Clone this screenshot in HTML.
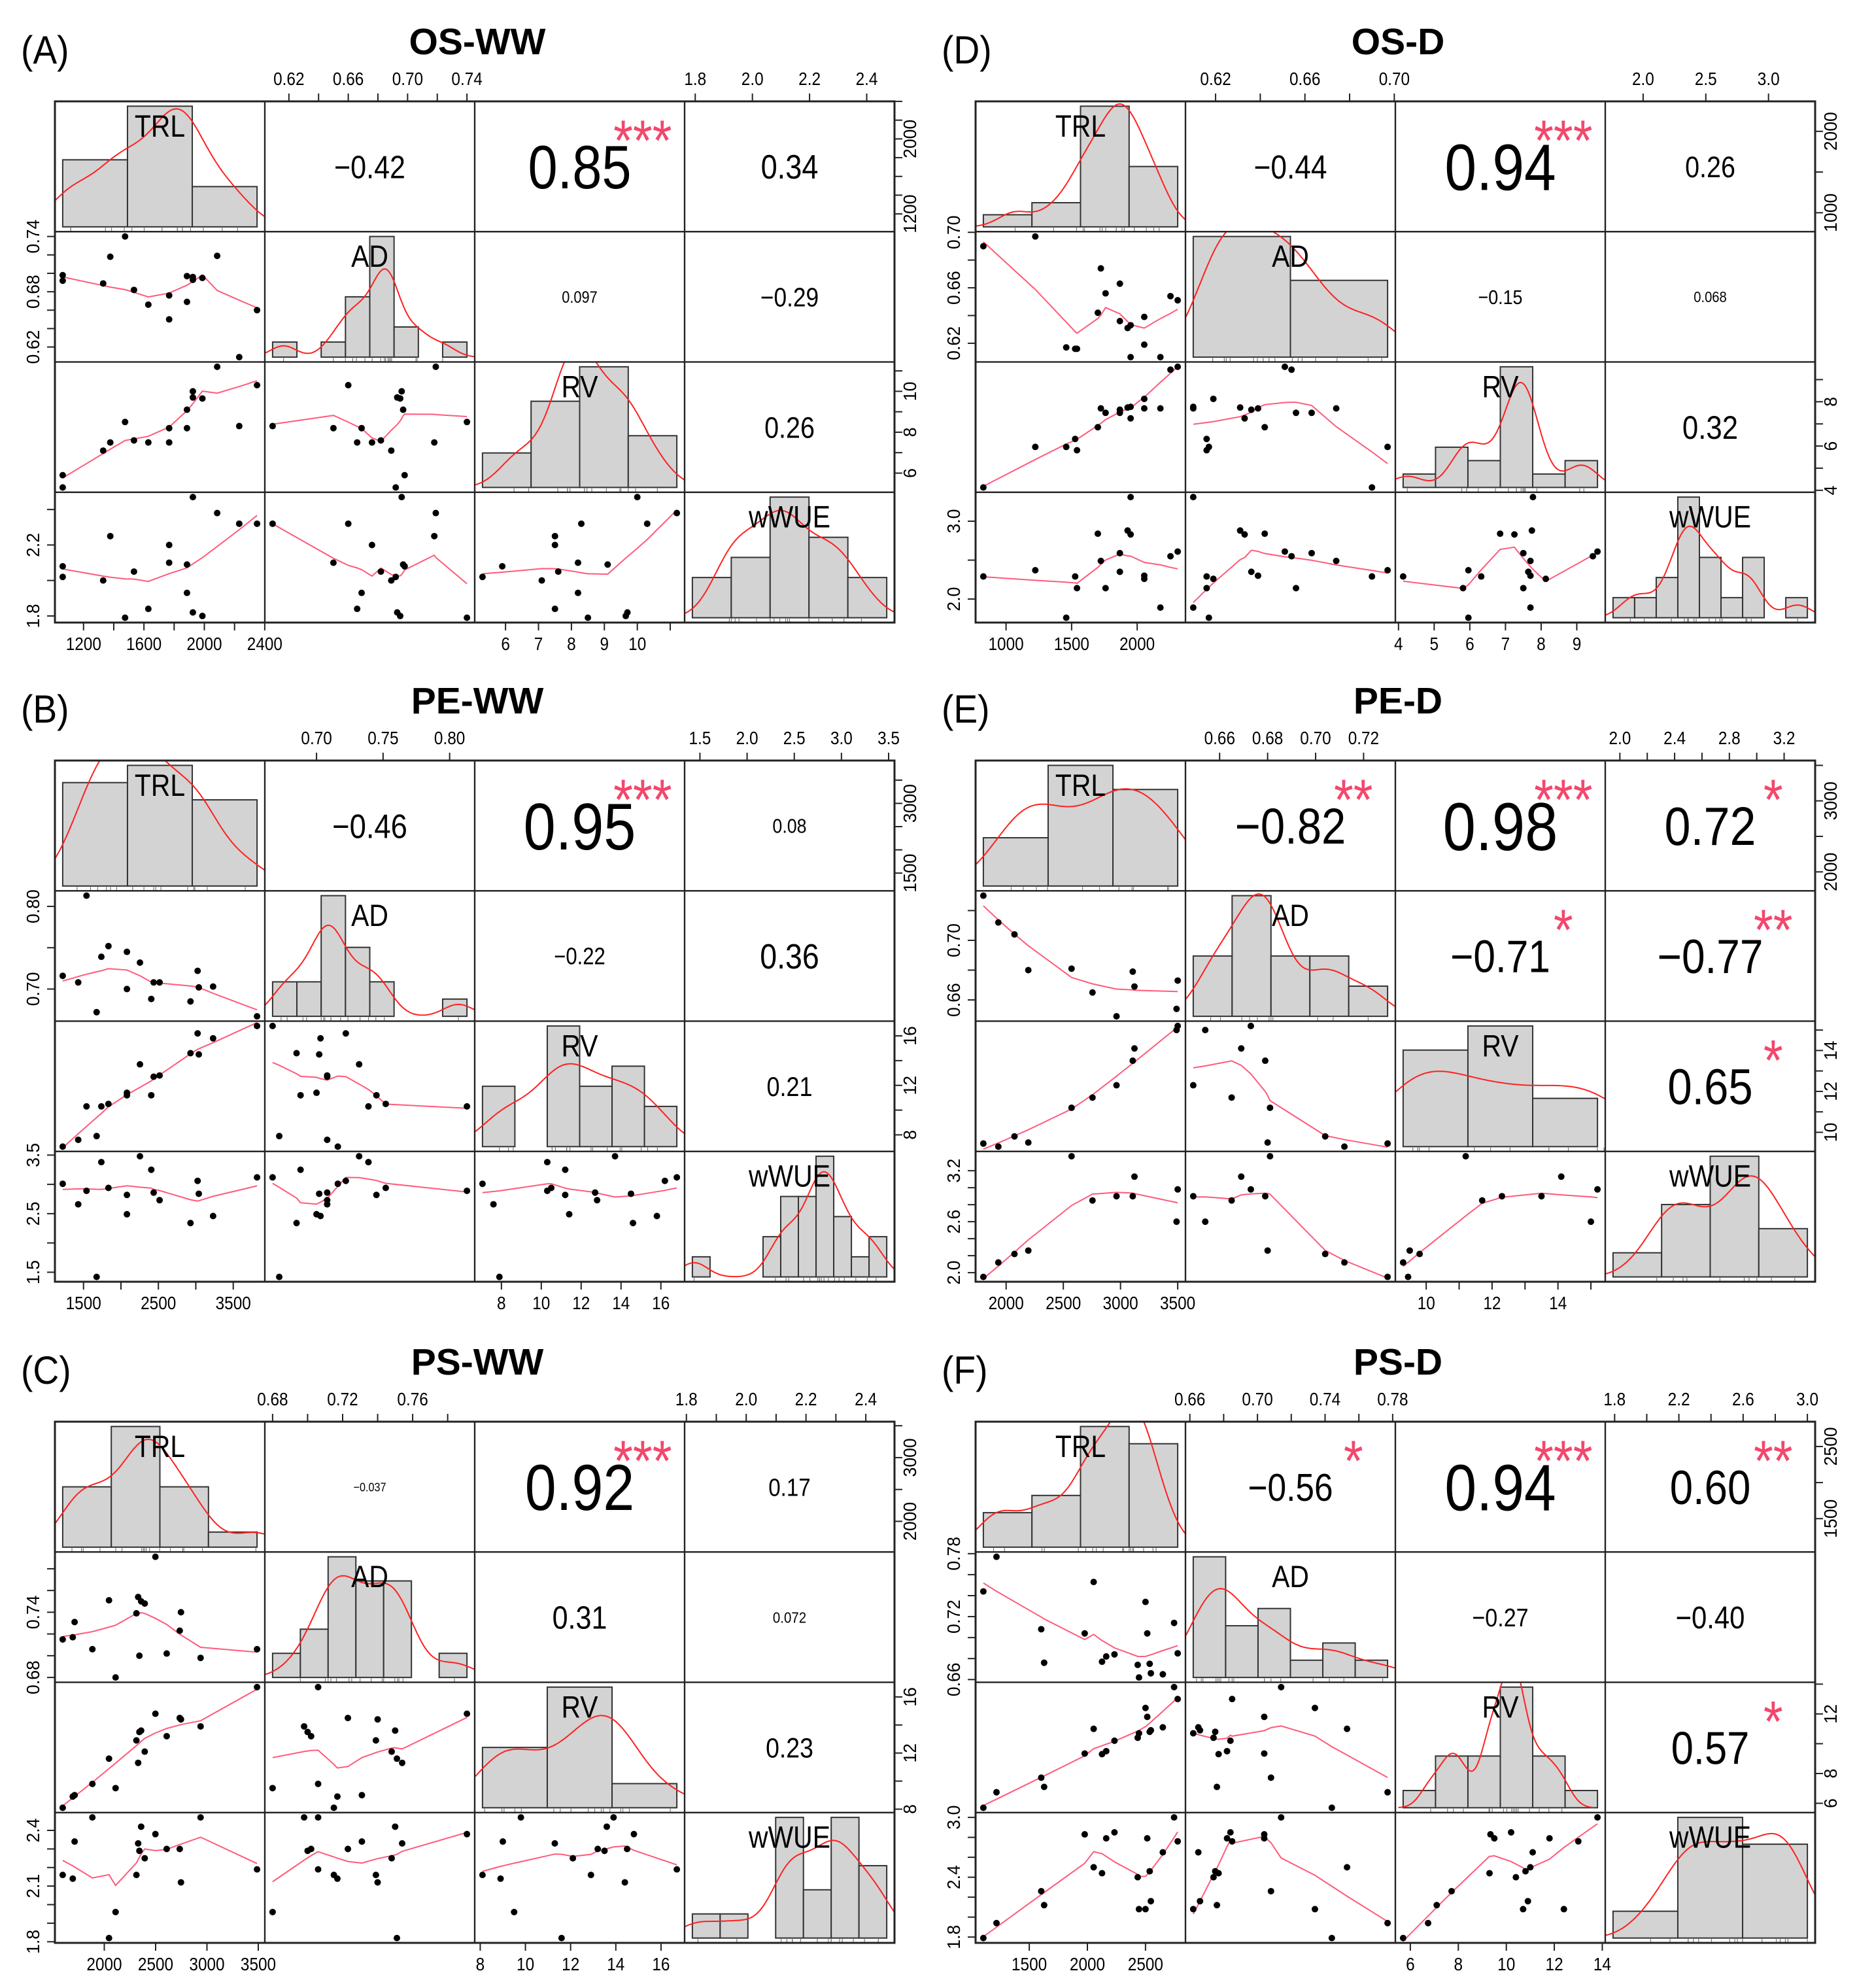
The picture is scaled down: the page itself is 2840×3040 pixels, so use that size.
<!DOCTYPE html>
<html><head><meta charset="utf-8"><title>Correlation matrices</title>
<style>body{margin:0;background:#fff}svg{display:block}text{font-family:"Liberation Sans",Arial,sans-serif}</style>
</head><body>
<svg id="chart" width="2840" height="3040" viewBox="0 0 2840 3040" xmlns="http://www.w3.org/2000/svg">
<rect width="2840" height="3040" fill="#fff"/>
<defs id="clips"></defs>
</svg>
<script>
// ---------- Panel A: OS-WW ----------
const A_trl=[1062,1062,1330,1377,1475,1534,1629,1767,1767,1885,1885,1924,1924,1987,2085,2231,2349];
const A_ad=[.698,.692,.689,.718,.740,.682,.666,.676,.650,.697,.669,.696,.693,.695,.719,.609,.660];
const A_rv=[5.9,5.3,7.1,7.5,8.5,7.6,7.5,7.5,8.2,9.1,8.2,10.0,9.7,9.65,11.2,8.3,10.3];
const A_ww=[2.08,2.02,2.00,2.25,1.79,2.05,1.84,2.20,2.10,2.09,1.93,2.47,1.82,1.80,2.38,2.32,2.32];
const A_breaks=[[1000,1500,2000,2500],[.60,.62,.64,.66,.68,.70,.72,.74,.76],[4,6,8,10,12],[1.6,1.8,2.0,2.2,2.4,2.6]];
const A_counts=[[5,9,3],[1,0,1,4,8,2,0,1],[2,5,7,3],[2,3,6,4,2]];
const A_corr=["−0.42","0.85","0.34","0.097","−0.29","0.26"];
const A_sig=["","***","","","",""];
const A_tk=[[1200,1400,1600,1800,2000,2200,2400],[.62,.64,.66,.68,.70,.72,.74],[6,7,8,9,10,11],[1.8,2.0,2.2,2.4]];
const A_lh=[[1200,1600,2000,2400],[.62,.66,.70,.74],[6,7,8,9,10],[1.8,2.0,2.2,2.4]];
const A_lv=[[1200,2000],[.62,.68,.74],[6,8,10],[1.8,2.2]];
// ---------- Panel B: PE-WW ----------
const B_trl=[1222,1429,1540,1675,1738,1833,2080,2080,2254,2405,2437,2516,2929,3024,3040,3231,3818];
const B_ad=[.716,.708,.813,.672,.739,.752,.745,.700,.732,.688,.708,.708,.685,.722,.702,.703,.667];
const B_rv=[7.05,7.6,10.3,7.9,10.3,10.5,11.2,11.4,13.7,11.2,12.7,12.8,14.6,16.2,14.5,15.8,16.8];
const B_ww=[3.01,2.66,2.89,1.42,3.38,2.94,2.82,2.49,3.48,3.25,2.86,2.73,2.34,3.06,2.84,2.46,3.12];
const B_breaks=[[1000,2000,3000,4000],[.66,.68,.70,.72,.74,.76,.78,.80,.82],[6,8,10,12,14,16,18],[1.4,1.6,1.8,2.0,2.2,2.4,2.6,2.8,3.0,3.2,3.4,3.6]];
const B_counts=[[6,7,5],[2,2,7,4,2,0,0,1],[3,0,6,3,4,2],[1,0,0,0,2,4,4,6,3,1,2]];
const B_corr=["−0.46","0.95","0.08","−0.22","0.36","0.21"];
const B_sig=["","***","","","",""];
const B_tk=[[1500,2000,2500,3000,3500],[.70,.75,.80],[8,10,12,14,16],[1.5,2.0,2.5,3.0,3.5]];
const B_lh=[[1500,2500,3500],[.70,.75,.80],[8,10,12,14,16],[1.5,2.0,2.5,3.0,3.5]];
const B_lv=[[1500,3000],[.70,.80],[8,12,16],[1.5,2.5,3.5]];
// ---------- Panel C: PS-WW ----------
const C_trl=[1595,1693,1711,1884,2046,2110,2313,2330,2342,2359,2394,2498,2608,2735,2747,2938,3488];
const C_ad=[.715,.717,.731,.706,.751,.680,.739,.754,.700,.750,.748,.791,.702,.723,.740,.698,.706];
const C_rv=[8.1,8.9,9.0,9.8,11.6,9.5,12.9,11.3,13.5,13.6,12.1,14.8,13.2,14.5,14.4,13.9,16.7];
const C_ww=[2.16,2.14,2.34,2.47,1.82,1.96,2.16,2.33,2.29,2.42,2.25,2.38,2.30,2.30,2.12,2.47,2.19];
const C_breaks=[[1500,2000,2500,3000,3500],[.66,.68,.70,.72,.74,.76,.78,.80],[8,11,14,17],[1.8,1.9,2.0,2.1,2.2,2.3,2.4,2.5]];
const C_counts=[[4,8,4,1],[1,2,5,4,4,0,1],[5,10,2],[1,1,0,5,2,5,3]];
const C_corr=["−0.037","0.92","0.17","0.31","0.072","0.23"];
const C_sig=["","***","","","",""];
const C_tk=[[2000,2500,3000,3500],[.68,.70,.72,.74,.76,.78],[8,10,12,14,16],[1.8,1.9,2.0,2.1,2.2,2.3,2.4]];
const C_lh=[[2000,2500,3000,3500],[.68,.72,.76],[8,10,12,14,16],[1.8,2.0,2.2,2.4]];
const C_lv=[[2000,3000],[.68,.74],[8,12,16],[1.8,2.1,2.4]];
// ---------- Panel D: OS-D ----------
const D_trl=[827,1223,1459,1527,1541,1700,1723,1759,1868,1868,1927,1950,1950,2054,2054,2177,2254,2309];
const D_ad=[.690,.697,.617,.616,.616,.642,.674,.656,.636,.663,.631,.633,.610,.639,.619,.610,.654,.651];
const D_rv=[4.13,5.96,5.96,6.32,5.81,6.85,7.7,7.5,7.64,7.5,7.74,7.25,7.77,7.7,8.13,7.7,9.45,9.58];
const D_ww=[2.29,2.37,1.76,2.29,2.14,2.84,2.49,2.14,2.35,2.59,2.88,2.83,3.31,2.30,2.26,1.89,2.55,2.61];
const D_breaks=[[500,1000,1500,2000,2500],[.60,.65,.70],[4,5,6,7,8,9,10],[1.6,1.8,2.0,2.2,2.4,2.6,2.8,3.0,3.2,3.4]];
const D_counts=[[1,2,10,5],[11,7],[1,3,2,9,1,2],[1,1,2,6,3,1,3,0,1]];
const D_corr=["−0.44","0.94","0.26","−0.15","0.068","0.32"];
const D_sig=["","***","","","",""];
const D_tk=[[1000,1500,2000],[.62,.64,.66,.68,.70],[4,5,6,7,8,9],[2.0,2.5,3.0]];
const D_lh=[[1000,1500,2000],[.62,.66,.70],[4,5,6,7,8,9],[2.0,2.5,3.0]];
const D_lv=[[1000,2000],[.62,.66,.70],[4,6,8],[2.0,3.0]];
// ---------- Panel E: PE-D ----------
const E_trl=[1801,1932,2073,2194,2572,2755,2965,3107,3122,3500,3490];
const E_ad=[.730,.712,.704,.680,.681,.665,.649,.679,.669,.673,.654];
const E_rv=[9.45,9.3,9.8,9.5,11.2,11.7,12.3,13.5,14.1,15.2,15.0];
const E_ww=[1.95,2.12,2.22,2.26,3.37,2.85,2.90,2.90,3.13,2.98,2.60];
const E_breaks=[[1500,2200,2900,3600],[.64,.66,.68,.70,.72,.74],[9,11,13,15],[1.5,2.0,2.5,3.0,3.5]];
const E_counts=[[2,5,4],[2,4,2,2,1],[4,5,2],[1,3,5,2]];
const E_corr=["−0.82","0.98","0.72","−0.71","−0.77","0.65"];
const E_sig=["**","***","*","*","**","*"];
const E_tk=[[2000,2500,3000,3500],[.66,.68,.70,.72],[10,11,12,13,14,15],[2.0,2.2,2.4,2.6,2.8,3.0,3.2]];
const E_lh=[[2000,2500,3000,3500],[.66,.68,.70,.72],[10,12,14],[2.0,2.4,2.8,3.2]];
const E_lv=[[2000,3000],[.66,.70],[10,12,14],[2.0,2.6,3.2]];
// ---------- Panel F: PS-D ----------
const F_trl=[1105,1218,1603,1628,1977,2054,2126,2162,2233,2433,2444,2500,2515,2536,2546,2649,2746,2777];
const F_ad=[.744,.777,.708,.676,.704,.753,.677,.682,.684,.674,.662,.734,.704,.675,.666,.665,.714,.685];
const F_rv=[5.7,6.74,7.72,7.1,9.34,11.0,9.3,9.5,10.2,10.4,10.7,12.4,11.8,10.8,10.9,11.1,13.8,13.0];
const F_ww=[1.79,1.94,2.26,2.12,2.83,2.50,2.44,2.79,2.85,2.40,2.08,2.08,2.79,2.46,2.16,2.65,3.0,2.76];
const F_breaks=[[1000,1500,2000,2500,3000],[.66,.68,.70,.72,.74,.76,.78],[4,6,8,10,12,14,16],[1.5,2.0,2.5,3.0]];
const F_counts=[[2,3,7,6],[7,3,4,1,2,1],[1,3,3,7,3,1],[2,9,7]];
const F_corr=["−0.56","0.94","0.60","−0.27","−0.40","0.57"];
const F_sig=["*","***","**","","","*"];
const F_tk=[[1500,2000,2500],[.66,.68,.70,.72,.74,.76,.78],[6,8,10,12,14],[1.8,2.0,2.2,2.4,2.6,2.8,3.0]];
const F_lh=[[1500,2000,2500],[.66,.70,.74,.78],[6,8,10,12,14],[1.8,2.2,2.6,3.0]];
const F_lv=[[1500,2500],[.66,.72,.78],[6,8,12],[1.8,2.4,3.0]];

const varNames=["TRL","AD","RV","wWUE"];
const decimals=[0,2,0,1];

const panels=[
 {id:"a",letter:"(A)",title:"OS-WW",x0:84,y0:155,vars:[A_trl,A_ad,A_rv,A_ww],br:A_breaks,ct:A_counts,corr:A_corr,sig:A_sig,tk:A_tk,lh:A_lh,lv:A_lv},
 {id:"b",letter:"(B)",title:"PE-WW",x0:84,y0:1163,vars:[B_trl,B_ad,B_rv,B_ww],br:B_breaks,ct:B_counts,corr:B_corr,sig:B_sig,tk:B_tk,lh:B_lh,lv:B_lv},
 {id:"c",letter:"(C)",title:"PS-WW",x0:84,y0:2174,vars:[C_trl,C_ad,C_rv,C_ww],br:C_breaks,ct:C_counts,corr:C_corr,sig:C_sig,tk:C_tk,lh:C_lh,lv:C_lv},
 {id:"d",letter:"(D)",title:"OS-D",x0:1492,y0:155,vars:[D_trl,D_ad,D_rv,D_ww],br:D_breaks,ct:D_counts,corr:D_corr,sig:D_sig,tk:D_tk,lh:D_lh,lv:D_lv},
 {id:"e",letter:"(E)",title:"PE-D",x0:1492,y0:1163,vars:[E_trl,E_ad,E_rv,E_ww],br:E_breaks,ct:E_counts,corr:E_corr,sig:E_sig,tk:E_tk,lh:E_lh,lv:E_lv},
 {id:"f",letter:"(F)",title:"PS-D",x0:1492,y0:2174,vars:[F_trl,F_ad,F_rv,F_ww],br:F_breaks,ct:F_counts,corr:F_corr,sig:F_sig,tk:F_tk,lh:F_lh,lv:F_lv}
];

const NS="http://www.w3.org/2000/svg";
const svg=document.getElementById('chart');
const defs=document.getElementById('clips');
const SX=0.87, W=1284, H=797, CW=W/4, CH=H/4;
function mk(p,tag,at){const e=document.createElementNS(NS,tag);for(const k in at)e.setAttribute(k,at[k]);p.appendChild(e);return e;}
function tx(p,s,x,y,fs,sx,rot,fill){
  const e=mk(p,'text',{transform:'translate('+x.toFixed(1)+','+y.toFixed(1)+')'+(rot?' rotate(-90)':'')+' scale('+sx+',1)','text-anchor':'middle','font-size':fs,fill:fill||'#000'});
  e.textContent=s;return e;}
function lowess(x,y){
  const n=x.length, idx=x.map((v,i)=>i).sort((a,b)=>x[a]-x[b]);
  const xs=idx.map(i=>x[i]), ys=idx.map(i=>y[i]);
  const ns=Math.max(2,Math.min(n,Math.floor(2/3*n+1e-7)));
  let rw=new Array(n).fill(1), fit=new Array(n).fill(0);
  for(let it=0;it<=3;it++){
    for(let i=0;i<n;i++){
      const d=xs.map(v=>Math.abs(v-xs[i])).slice().sort((a,b)=>a-b);
      let h=Math.max(d[ns-1],1e-9);
      let sw=0,sx=0,sy=0,sxx=0,sxy=0;
      for(let k=0;k<n;k++){const u=Math.abs(xs[k]-xs[i])/h;let w=u<1?Math.pow(1-u*u*u,3):0;w*=rw[k];
        sw+=w;sx+=w*xs[k];sy+=w*ys[k];sxx+=w*xs[k]*xs[k];sxy+=w*xs[k]*ys[k];}
      if(sw<=0){fit[i]=ys[i];continue;}
      const mx=sx/sw,my=sy/sw,vx=sxx/sw-mx*mx;
      fit[i]=vx>1e-12*(1+mx*mx)?my+(sxy/sw-mx*my)/vx*(xs[i]-mx):my;
    }
    if(it===3)break;
    const res=ys.map((v,i)=>v-fit[i]);const ar=res.map(Math.abs).sort((a,b)=>a-b);
    const med=ar[Math.floor((n-1)/2)]*0.5+ar[Math.ceil((n-1)/2)]*0.5;const c=6*med;
    if(c<1e-12)break;
    rw=res.map(r=>{const u=Math.abs(r)/c;return u<1?Math.pow(1-u*u,2):0;});
  }
  return xs.map((v,i)=>[v,fit[i]]);
}
function kde(v){
  const n=v.length,m=v.reduce((a,b)=>a+b,0)/n;
  const sd=Math.sqrt(v.reduce((a,b)=>a+(b-m)*(b-m),0)/(n-1));
  const s=v.slice().sort((a,b)=>a-b);const q=p=>{const h=(n-1)*p,l=Math.floor(h);return s[l]+(h-l)*((s[l+1]??s[l])-s[l]);};
  let lo=Math.min(sd,(q(.75)-q(.25))/1.34);if(!(lo>0))lo=sd;
  const bw=0.9*lo*Math.pow(n,-0.2);const a=s[0]-3*bw,b=s[n-1]+3*bw,pts=[];
  for(let k=0;k<=200;k++){const x=a+(b-a)*k/200;let d=0;for(const t of v){const z=(x-t)/bw;d+=Math.exp(-z*z/2);}pts.push([x,d/(n*bw*Math.sqrt(2*Math.PI))]);}
  return pts;
}
function strW(s){let w=0;for(const c of s)w+=(c==='.')?0.278:(c==='−'||c==='-')?0.35:0.556;return w;}
let clipId=0;
function clip(x,y,w,h){const id='cl'+(clipId++);const cp=mk(defs,'clipPath',{id:id});mk(cp,'rect',{x:x,y:y,width:w,height:h});return 'url(#'+id+')';}
const pairIdx={"01":0,"02":1,"03":2,"12":3,"13":4,"23":5};

function drawPanel(P){
  const g=mk(svg,'g',{});
  
  
  const x0=P.x0,y0=P.y0,V=P.vars;
  const lo=[],sp=[];
  V.forEach((a,k)=>{const mn=Math.min(...a),mx=Math.max(...a),r=(mx-mn)||1;lo[k]=mn-.04*r;sp[k]=1.08*r;});
  const mapX=(k,v,col)=>x0+col*CW+(v-lo[k])/sp[k]*CW;
  const mapY=(k,v,row)=>y0+(row+1)*CH-(v-lo[k])/sp[k]*CH;
  const lt=tx(g,P.letter,x0-52,y0-58,60,0.92);
  
  
  lt.setAttribute('text-anchor','start');
  const tt=tx(g,P.title,x0+W/2+4,y0-72,57,1);
  
  
  tt.setAttribute('font-weight','bold');
  for(let i=0;i<4;i++)for(let j=0;j<4;j++){
    const cx=x0+j*CW,cy=y0+i*CH;
    const cg=mk(g,'g',{});
    
    
    if(i===j){
      const b=P.br[i],c=P.ct[i],N=c.reduce((a,b)=>a+b,0);
      const b0=b[0],bn=b[b.length-1],br=bn-b0;
      const dens=c.map((v,k)=>v/(N*(b[k+1]-b[k])));const m=Math.max(...dens);
      const hx=v=>cx+(v-(b0-.04*br))/(1.08*br)*CW;
      const hy=d=>cy+CH-(d+.04*m)/(1.08*m)*CH;
      c.forEach((v,k)=>{if(v<=0)return;
        const r=mk(cg,'rect',{x:hx(b[k]),y:hy(dens[k]),width:hx(b[k+1])-hx(b[k]),height:hy(0)-hy(dens[k]),fill:'#d3d3d3',stroke:'#333','stroke-width':2});
        
        });
      V[i].forEach(v=>{const l=mk(cg,'line',{x1:hx(v),x2:hx(v),y1:cy+CH,y2:cy+CH-6,stroke:'#777','stroke-width':1.2});
        
        });
      const kp=kde(V[i]);
      const pl=mk(cg,'polyline',{points:kp.map(p=>hx(p[0]).toFixed(1)+','+hy(p[1]).toFixed(1)).join(' '),fill:'none',stroke:'#ff2020','stroke-width':2,'clip-path':clip(cx,cy,CW,CH)});
      
      
      const lb=tx(cg,varNames[i],cx+CW/2,cy+0.185*CH+17,47,SX);
      
      
    } else if(i>j){
      const cp=clip(cx,cy,CW,CH);
      const lw=lowess(V[j],V[i]);
      const pl=mk(cg,'polyline',{points:lw.map(p=>mapX(j,p[0],j).toFixed(1)+','+mapY(i,p[1],i).toFixed(1)).join(' '),fill:'none',stroke:'#ff5a7a','stroke-width':2,'clip-path':cp});
      
      
      V[j].forEach((v,n)=>{const pt=mk(cg,'circle',{cx:mapX(j,v,j),cy:mapY(i,V[i][n],i),r:5,fill:'#000'});
        
        });
    } else {
      const k=pairIdx[''+i+j];const s=P.corr[k];
      const r=Math.abs(parseFloat(s.replace('−','-')));
      const cap=113*(r+0.3)/strW(s);const fs=cap/0.716;
      const t=tx(cg,s,cx+CW/2,cy+CH/2+cap/2,fs.toFixed(1),SX);
      
      
      if(P.sig[k]){const st=tx(cg,P.sig[k],cx+0.8*CW,cy+0.2*CH+50,88,SX,false,'#f2476c');
        
        }
    }
    const bd=mk(cg,'rect',{x:cx,y:cy,width:CW,height:CH,fill:'none',stroke:'#222','stroke-width':2.2});
    
    
  }
  const ob=mk(g,'rect',{x:x0,y:y0,width:W,height:H,fill:'none',stroke:'#222','stroke-width':3});
  
  
  for(let k=0;k<4;k++){
    const ag=mk(g,'g',{});
    
    
    const inR=v=>v>=lo[k]-1e-9&&v<=lo[k]+sp[k]+1e-9;
    const tks=P.tk[k].filter(inR);
    const horizTop=(k%2===1), yH=horizTop?y0:y0+H, dir=horizTop?-1:1;
    const xs=tks.map(v=>mapX(k,v,k));
    if(xs.length>1){const al=mk(ag,'line',{x1:xs[0],x2:xs[xs.length-1],y1:yH,y2:yH,stroke:'#222','stroke-width':2});
      
      }
    xs.forEach(x=>{const l=mk(ag,'line',{x1:x,x2:x,y1:yH,y2:yH+dir*12,stroke:'#222','stroke-width':2});
      
      });
    P.lh[k].filter(inR).forEach(v=>{const t=tx(ag,v.toFixed(decimals[k]),mapX(k,v,k),horizTop?y0-25:y0+H+42,28,SX);
      
      });
    const vertRight=(k%2===0), xV=vertRight?x0+W:x0, dv=vertRight?1:-1;
    const ys=tks.map(v=>mapY(k,v,k));
    if(ys.length>1){const al=mk(ag,'line',{x1:xV,x2:xV,y1:ys[0],y2:ys[ys.length-1],stroke:'#222','stroke-width':2});
      
      }
    ys.forEach(y=>{const l=mk(ag,'line',{x1:xV,x2:xV+dv*12,y1:y,y2:y,stroke:'#222','stroke-width':2});
      
      });
    P.lv[k].filter(inR).forEach(v=>{const t=tx(ag,v.toFixed(decimals[k]),vertRight?x0+W+33:x0-24,mapY(k,v,k),28,0.95,true);
      
      });
  }
}
panels.forEach(drawPanel);
</script>
</body></html>
